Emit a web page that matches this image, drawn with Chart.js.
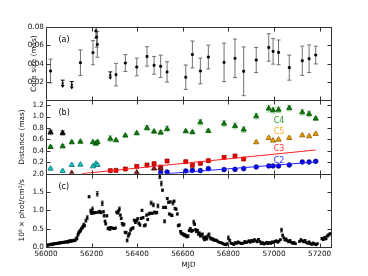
<!DOCTYPE html>
<html>
<head>
<meta charset="utf-8">
<script src="https://cdn.jsdelivr.net/npm/chart.js@4/dist/chart.umd.min.js"></script>
<style>
  html, body { margin: 0; padding: 0; background: #fff; }
  #wrap { position: relative; width: 368px; height: 276px; }
</style>
</head>
<body>
<div id="wrap"><canvas id="chart" width="368" height="276"></canvas></div>
<script>
// ---- data ----
const xTicks = [56000, 56200, 56400, 56600, 56800, 57000, 57200];
const coreTicks = [0.02, 0.04, 0.06, 0.08];
const distTicks = [0.2, 0.4, 0.6, 0.8, 1.0, 1.2];
const fluxTicks = [0.0, 0.5, 1.0, 1.5, 2.0];

// (a) core size
const coreMjd = [56020, 56151, 56206, 56219, 56222, 56225, 56307, 56348, 56398, 56443, 56474, 56503, 56531, 56613,
  56642, 56677, 56712, 56781, 56829, 56867, 56922, 56977, 56996, 57020, 57067, 57124, 57154, 57183];
const coreSize = [0.032, 0.041, 0.052, 0.0757, 0.069, 0.061, 0.028, 0.0407, 0.0364, 0.0479, 0.0382, 0.0371, 0.031, 0.0252,
  0.050, 0.032, 0.0472, 0.0414, 0.0458, 0.0317, 0.044, 0.0577, 0.0534, 0.0523, 0.0357, 0.0432, 0.0454, 0.0494];
const coreErr = [0.013, 0.014, 0.0132, 0.008, 0.011, 0.014, 0.0123, 0.0092, 0.0097, 0.0106, 0.0097, 0.0121, 0.0111, 0.0133,
  0.0147, 0.014, 0.013, 0.021, 0.021, 0.0266, 0.0137, 0.015, 0.0139, 0.0135, 0.0137, 0.016, 0.015, 0.0097];
// upper limits
const limitMjd = [56073, 56113, 56282];
const limitSize = [0.022, 0.0205, 0.031];

// (b) component distances
const c4Mjd = [56020, 56073, 56113, 56151, 56206, 56219, 56226, 56282, 56307, 56348, 56398, 56443, 56474, 56503, 56531,
  56613, 56642, 56677, 56712, 56781, 56829, 56867, 56922, 56977, 56996, 57020, 57067, 57124, 57154, 57183];
const c4Dist = [0.468, 0.48, 0.55, 0.56, 0.55, 0.526, 0.556, 0.614, 0.585, 0.667, 0.708, 0.80, 0.737, 0.72, 0.784,
  0.743, 0.725, 0.90, 0.749, 0.877, 0.836, 0.772, 1.006, 1.14, 1.11, 1.12, 1.15, 1.076, 1.047, 0.965];
const c4Err = [0.025, 0.03, 0.025, 0.025, 0.02, 0.02, 0.025, 0.05, 0.02, 0.02, 0.025, 0.04, 0.025, 0.035, 0.05,
  0.025, 0.02, 0.05, 0.025, 0.05, 0.05, 0.05, 0.05, 0.06, 0.05, 0.05, 0.05, 0.05, 0.05, 0.03];

const c1Mjd = [56020, 56073];
const c1Dist = [0.725, 0.714];
const c1Err = [0.04, 0.04];

const cyanMjd = [56020, 56073, 56113, 56151, 56206, 56219, 56226];
const cyanDist = [0.088, 0.047, 0.152, 0.158, 0.128, 0.175, 0.152];
const cyanErr = [0.02, 0.02, 0.02, 0.02, 0.02, 0.025, 0.02];

const c5Mjd = [56922, 56977, 56996, 57020, 57067, 57124, 57154, 57183];
const c5Dist = [0.55, 0.626, 0.579, 0.596, 0.626, 0.672, 0.655, 0.696];
const c5Err = [0.02, 0.02, 0.02, 0.02, 0.02, 0.02, 0.02, 0.02];

const c3Mjd = [56282, 56307, 56348, 56398, 56443, 56474, 56503, 56531, 56613, 56642, 56677, 56712, 56781, 56829, 56867];
const c3Dist = [0.053, 0.058, 0.082, 0.128, 0.152, 0.175, 0.117, 0.222, 0.21, 0.146, 0.18, 0.228, 0.286, 0.31, 0.257];

const c2Mjd = [56503, 56531, 56613, 56642, 56677, 56712, 56781, 56829, 56867, 56922, 56977, 56996, 57020, 57067, 57124, 57154, 57183];
const c2Dist = [0.02, 0.03, 0.047, 0.058, 0.053, 0.088, 0.07, 0.075, 0.088, 0.117, 0.135, 0.135, 0.135, 0.152, 0.205, 0.205, 0.216];

const c0Mjd = [56113, 56398, 56474, 56503];
const c0Dist = [0.01, 0.02, 0.09, 0.09];

// linear fits
const c3FitMjd = [56157, 57183];
const c3FitDist = [0.0, 0.415];
const c2FitMjd = [56530, 57183];
const c2FitDist = [0.0, 0.205];

// component labels
const compNames = ['C4', 'C5', 'C3', 'C2'];
const compLabelMjd = [57022, 57022, 57022, 57022];
const compLabelDist = [0.93, 0.73, 0.43, 0.23];
const compColors = ['#2e9a2e', '#ffb020', '#ff3333', '#3333ff'];

// (c) gamma-ray light curve: [MJD, flux, error]
const lightCurve = [
  [56002,0.04,.02],[56007,0.06,.02],[56012,0.05,.02],[56017,0.07,.02],[56022,0.08,.02],[56027,0.06,.02],
  [56032,0.09,.02],[56037,0.08,.02],[56042,0.10,.02],[56047,0.09,.02],[56052,0.11,.02],[56057,0.10,.02],
  [56062,0.12,.02],[56067,0.11,.02],[56072,0.13,.02],[56077,0.12,.02],[56082,0.14,.02],[56087,0.13,.02],
  [56092,0.15,.02],[56097,0.13,.02],[56102,0.17,.02],[56107,0.15,.02],[56112,0.18,.02],[56117,0.16,.02],
  [56122,0.19,.02],[56127,0.17,.02],[56132,0.22,.03],[56136,0.24,.04],[56140,0.33,.03],[56143,0.38,.03],
  [56146,0.41,.03],[56149,0.43,.03],[56152,0.46,.03],[56156,0.50,.03],[56160,0.53,.03],[56163,0.57,.03],
  [56166,0.61,.04],[56169,0.58,.03],[56175,0.72,.04],[56181,0.80,.05],[56189,1.37,.03],[56196,0.98,.05],
  [56200,0.92,.03],[56204,1.03,.06],[56208,0.93,.03],[56213,0.94,.03],[56218,0.94,.03],[56225,1.45,.06],
  [56230,0.95,.03],[56236,0.97,.03],[56241,0.94,.03],[56247,1.19,.06],[56252,0.96,.03],[56255,0.85,.03],
  [56259,0.70,.03],[56262,0.63,.03],[56267,0.85,.03],[56272,0.50,.03],[56277,0.52,.03],[56281,0.48,.02],
  [56285,0.53,.02],[56290,0.52,.02],[56295,0.51,.02],[56300,0.50,.02],[56305,0.52,.02],[56310,0.95,.03],
  [56314,0.93,.03],[56318,0.98,.03],[56322,1.04,.05],[56326,0.87,.03],[56330,0.78,.03],[56334,0.64,.03],
  [56338,0.60,.03],[56342,0.62,.03],[56347,0.40,.03],[56352,0.39,.03],[56356,0.18,.04],[56361,0.30,.03],
  [56366,0.36,.03],[56371,0.46,.03],[56376,0.50,.03],[56382,0.52,.03],[56387,0.73,.03],[56392,0.67,.03],
  [56397,0.72,.03],[56402,0.77,.03],[56407,0.65,.03],[56412,0.60,.03],[56417,0.78,.03],[56421,1.00,.03],
  [56426,0.80,.03],[56431,0.58,.03],[56436,0.60,.03],[56441,0.87,.03],[56446,0.75,.03],[56451,0.90,.03],
  [56456,0.92,.03],[56461,1.20,.05],[56466,0.92,.03],[56471,1.15,.05],[56476,0.95,.03],[56481,0.93,.03],
  [56486,0.94,.03],[56491,1.12,.05],[56499,1.92,.05],[56506,1.73,.06],[56511,1.55,.03],[56515,1.08,.03],
  [56520,0.70,.04],[56525,1.08,.03],[56532,1.32,.03],[56537,1.22,.03],[56541,0.90,.03],[56545,1.23,.03],
  [56549,0.87,.03],[56553,0.86,.03],[56557,1.20,.05],[56562,1.25,.03],[56566,1.05,.03],[56571,1.03,.03],
  [56576,0.90,.03],[56580,0.58,.03],[56585,0.60,.03],[56590,0.42,.03],[56593,0.38,.03],[56597,0.36,.03],
  [56602,0.35,.03],[56606,0.32,.03],[56610,0.33,.03],[56614,0.30,.03],[56619,0.28,.03],[56623,0.30,.03],
  [56628,0.45,.03],[56633,0.50,.03],[56638,0.43,.03],[56643,0.45,.03],[56648,0.68,.05],[56652,0.62,.03],
  [56656,0.47,.03],[56660,0.42,.03],[56665,0.45,.03],[56669,0.35,.03],[56673,0.38,.03],[56677,0.30,.03],
  [56681,0.32,.03],[56686,0.35,.03],[56691,0.25,.03],[56695,0.20,.03],[56700,0.27,.03],[56705,0.22,.03],
  [56710,0.30,.03],[56715,0.35,.03],[56720,0.25,.03],[56725,0.22,.03],[56730,0.22,.03],[56735,0.20,.03],
  [56740,0.18,.03],[56745,0.19,.02],[56750,0.17,.02],[56755,0.14,.02],[56760,0.13,.02],[56765,0.12,.02],
  [56770,0.11,.02],[56775,0.10,.02],[56780,0.08,.02],[56785,0.07,.02],[56790,0.06,.02],[56795,0.09,.02],
  [56800,0.25,.05],[56806,0.18,.03],[56812,0.10,.02],[56818,0.09,.02],[56824,0.07,.02],[56830,0.12,.02],
  [56836,0.10,.02],[56842,0.14,.02],[56848,0.12,.02],[56854,0.10,.02],[56860,0.09,.02],[56866,0.11,.02],
  [56872,0.15,.02],[56878,0.12,.02],[56884,0.14,.02],[56890,0.17,.02],[56896,0.13,.02],[56902,0.18,.02],
  [56908,0.15,.02],[56914,0.20,.02],[56920,0.17,.02],[56926,0.14,.02],[56932,0.21,.02],[56938,0.15,.02],
  [56944,0.09,.02],[56950,0.12,.02],[56956,0.08,.02],[56962,0.10,.02],[56968,0.13,.02],[56974,0.09,.02],
  [56980,0.12,.02],[56986,0.10,.02],[56992,0.14,.02],[56998,0.12,.02],[57004,0.15,.02],[57010,0.17,.02],
  [57016,0.13,.02],[57022,0.16,.02],[57028,0.20,.02],[57033,0.46,.05],[57038,0.32,.03],[57043,0.25,.02],
  [57048,0.19,.02],[57053,0.22,.02],[57058,0.17,.02],[57064,0.14,.02],[57070,0.18,.02],[57076,0.13,.02],
  [57082,0.10,.02],[57088,0.12,.02],[57094,0.09,.02],[57112,0.15,.02],[57118,0.20,.02],[57124,0.17,.02],
  [57130,0.14,.02],[57136,0.18,.02],[57142,0.12,.02],[57148,0.10,.02],[57154,0.14,.02],[57160,0.09,.02],
  [57166,0.07,.02],[57172,0.11,.02],[57178,0.08,.02],[57184,0.06,.02],[57190,0.09,.02],[57210,0.23,.03],
  [57216,0.20,.02],[57222,0.26,.03],[57228,0.22,.02],[57234,0.30,.03],[57240,0.33,.03],[57246,0.36,.03]
];

// ---- helpers ----
const FONT = 'DejaVu Sans';
const tickFont = { family: FONT, size: 7.3 };

function pts(xs, ys) {
  return xs.map((x, i) => ({ x: x, y: ys[i] }));
}

function markers(label, xs, ys, axis, style, extra) {
  return Object.assign({
    label: label,
    data: pts(xs, ys),
    yAxisID: axis,
    showLine: false,
    pointStyle: style.shape,
    pointRadius: style.r,
    pointBackgroundColor: style.fill,
    pointBorderColor: style.edge,
    pointBorderWidth: 0.8
  }, extra || {});
}

// error bars drawn under the markers, clipped to each panel
const errorBars = {
  id: 'errorBars',
  beforeDatasetsDraw(chart) {
    const ctx = chart.ctx;
    const area = chart.chartArea;
    chart.data.datasets.forEach((ds, di) => {
      if (!ds.errors) return;
      const meta = chart.getDatasetMeta(di);
      const ys = chart.scales[ds.yAxisID];
      ctx.save();
      ctx.beginPath();
      ctx.rect(area.left, ys.top, area.right - area.left, ys.bottom - ys.top);
      ctx.clip();
      ctx.strokeStyle = ds.errColor;
      ctx.lineWidth = ds.errWidth || 1;
      meta.data.forEach((p, i) => {
        const v = ds.data[i].y, e = ds.errors[i];
        const y1 = ys.getPixelForValue(v + e);
        const y2 = ys.getPixelForValue(v - e);
        const cw = ds.capWidth;
        ctx.beginPath();
        ctx.moveTo(p.x, y1); ctx.lineTo(p.x, y2);
        ctx.moveTo(p.x - cw, y1); ctx.lineTo(p.x + cw, y1);
        ctx.moveTo(p.x - cw, y2); ctx.lineTo(p.x + cw, y2);
        ctx.stroke();
      });
      ctx.restore();
    });
  },
  afterDatasetsDraw(chart) {
    // upper-limit arrows in panel (a)
    const ctx = chart.ctx;
    chart.data.datasets.forEach((ds, di) => {
      if (!ds.upperLimit) return;
      const meta = chart.getDatasetMeta(di);
      const ys = chart.scales[ds.yAxisID];
      ctx.save();
      ctx.strokeStyle = '#000';
      ctx.fillStyle = '#000';
      ctx.lineWidth = 1;
      meta.data.forEach((p, i) => {
        const top = ys.getPixelForValue(ds.data[i].y);
        const bot = ys.getPixelForValue(ds.data[i].y - 0.008);
        ctx.beginPath();
        ctx.moveTo(p.x - 2, top); ctx.lineTo(p.x + 2, top);
        ctx.moveTo(p.x, top); ctx.lineTo(p.x, bot - 2);
        ctx.stroke();
        ctx.beginPath();
        ctx.moveTo(p.x - 2, bot - 2.5); ctx.lineTo(p.x + 2, bot - 2.5); ctx.lineTo(p.x, bot + 0.5);
        ctx.closePath();
        ctx.fill();
        ctx.fillRect(p.x - 1, (top + bot) / 2 - 1.5, 2, 2);
      });
      ctx.restore();
    });
  }
};

// panel frames with inward ticks, plus in-panel text
const frames = {
  id: 'frames',
  afterDraw(chart) {
    const ctx = chart.ctx;
    const area = chart.chartArea;
    const xs = chart.scales.x;
    const panels = [
      { id: 'ya', ticks: coreTicks, tag: '(a)' },
      { id: 'yb', ticks: distTicks, tag: '(b)' },
      { id: 'yc', ticks: fluxTicks, tag: '(c)' }
    ];
    ctx.save();
    ctx.strokeStyle = '#333';
    ctx.lineWidth = 1;
    const L = 4;
    panels.forEach(pn => {
      const s = chart.scales[pn.id];
      const top = Math.round(s.top) + 0.5, bot = Math.round(s.bottom) + 0.5;
      const left = Math.round(area.left) + 0.5, right = Math.round(area.right) + 0.5;
      ctx.strokeRect(left, top, right - left, bot - top);
      ctx.beginPath();
      pn.ticks.forEach(v => {
        const y = Math.round(s.getPixelForValue(v)) + 0.5;
        ctx.moveTo(left, y); ctx.lineTo(left + L, y);
        ctx.moveTo(right, y); ctx.lineTo(right - L, y);
      });
      xTicks.forEach(v => {
        const x = Math.round(xs.getPixelForValue(v)) + 0.5;
        ctx.moveTo(x, top); ctx.lineTo(x, top + L);
        ctx.moveTo(x, bot); ctx.lineTo(x, bot - L);
      });
      ctx.stroke();
      ctx.fillStyle = '#000';
      ctx.font = '8px "' + FONT + '"';
      ctx.textBaseline = 'middle';
      ctx.textAlign = 'left';
      ctx.fillText(pn.tag, left + 12, top + 12);
    });
    // component names
    const yb = chart.scales.yb;
    ctx.font = '8px "' + FONT + '"';
    ctx.textAlign = 'center';
    compNames.forEach((n, i) => {
      ctx.fillStyle = compColors[i];
      ctx.fillText(n, xs.getPixelForValue(compLabelMjd[i]), yb.getPixelForValue(compLabelDist[i]));
    });
    ctx.restore();
  }
};

function yScale(min, max, ticks, digits, title, titlePad) {
  return {
    type: 'linear',
    position: 'left',
    stack: 'panels',
    stackWeight: 1,
    min: min,
    max: max,
    grid: { display: false, drawTicks: false },
    border: { display: false },
    afterBuildTicks: s => { s.ticks = ticks.map(v => ({ value: v })); },
    afterFit: s => { s.width = 46; },
    ticks: {
      font: tickFont, color: '#111', padding: 2, autoSkip: false,
      callback: v => v.toFixed(digits)
    },
    title: {
      display: true, text: title, color: '#111',
      font: { family: FONT, size: 7.3 },
      padding: { top: titlePad, bottom: 0 }
    }
  };
}

// higher layout weight = placed higher in the stack
const ya = yScale(0, 0.08, coreTicks, 2, 'Core size (mas)', 29.5);
ya.weight = 3;
const yb = yScale(0, 1.285, distTicks, 1, 'Distance (mas)', 17.5);
yb.weight = 2;
const yc = yScale(0, 2.0, fluxTicks, 1, '10\u2076 \u00d7 phot/cm\u00b2/s', 17.5);
yc.weight = 1;

const datasets = [
  // (a)
  markers('core', coreMjd, coreSize, 'ya', { shape: 'rect', r: 1.4, fill: '#000', edge: '#000' },
    { errors: coreErr, errColor: '#707070', capWidth: 2 }),
  { label: 'limits', data: pts(limitMjd, limitSize), yAxisID: 'ya', showLine: false, pointRadius: 0, upperLimit: true },
  // (b)
  { label: 'C3 fit', data: pts(c3FitMjd, c3FitDist), yAxisID: 'yb', showLine: true, pointRadius: 0,
    borderColor: '#ff2020', borderWidth: 1 },
  { label: 'C2 fit', data: pts(c2FitMjd, c2FitDist), yAxisID: 'yb', showLine: true, pointRadius: 0,
    borderColor: '#2020ff', borderWidth: 1 },
  markers('C4', c4Mjd, c4Dist, 'yb', { shape: 'triangle', r: 3, fill: '#0a7d0a', edge: '#054d05' },
    { errors: c4Err, errColor: 'rgba(60,170,60,0.45)', capWidth: 2.5 }),
  markers('C1', c1Mjd, c1Dist, 'yb', { shape: 'triangle', r: 3, fill: '#000', edge: '#000' },
    { errors: c1Err, errColor: 'rgba(0,0,0,0.45)', capWidth: 2.5 }),
  markers('cyan', cyanMjd, cyanDist, 'yb', { shape: 'triangle', r: 3, fill: '#18c8c8', edge: '#0a7070' },
    { errors: cyanErr, errColor: 'rgba(30,200,200,0.4)', capWidth: 2.5 }),
  markers('C5', c5Mjd, c5Dist, 'yb', { shape: 'triangle', r: 3, fill: '#f0a000', edge: '#8a5a00' },
    { errors: c5Err, errColor: 'rgba(240,160,0,0.4)', capWidth: 2.5 }),
  markers('C0', c0Mjd, c0Dist, 'yb', { shape: 'triangle', r: 3, fill: '#8b1a1a', edge: '#4d0a0a' }),
  markers('C3', c3Mjd, c3Dist, 'yb', { shape: 'rect', r: 2.8, fill: '#ee0000', edge: '#990000' }),
  markers('C2', c2Mjd, c2Dist, 'yb', { shape: 'circle', r: 2.3, fill: '#0000ee', edge: '#000088' }),
  // (c)
  markers('LAT', lightCurve.map(r => r[0]), lightCurve.map(r => r[1]), 'yc',
    { shape: 'rect', r: 1.2, fill: '#000', edge: '#000' },
    { errors: lightCurve.map(r => r[2]), errColor: '#000', capWidth: 1.5, errWidth: 0.8 })
];

new Chart(document.getElementById('chart').getContext('2d'), {
  type: 'scatter',
  data: { datasets: datasets },
  options: {
    responsive: false,
    animation: false,
    events: [],
    layout: { padding: { top: 27, right: 37, left: 0, bottom: 0 } },
    plugins: { legend: { display: false }, tooltip: { enabled: false } },
    scales: {
      x: {
        type: 'linear',
        position: 'bottom',
        min: 56000,
        max: 57250,
        grid: { display: false, drawTicks: false },
        border: { display: false },
        afterBuildTicks: s => { s.ticks = xTicks.map(v => ({ value: v })); },
        afterFit: s => { s.height = 29; },
        ticks: { font: tickFont, color: '#111', padding: 3, maxRotation: 0, autoSkip: false,
          callback: v => String(v) },
        title: { display: true, text: 'MJD', color: '#111', font: { family: FONT, size: 7.3 },
          padding: { top: 0, bottom: 6.5 } }
      },
      ya: ya,
      yb: yb,
      yc: yc
    }
  },
  plugins: [errorBars, frames]
});
</script>
</body>
</html>
